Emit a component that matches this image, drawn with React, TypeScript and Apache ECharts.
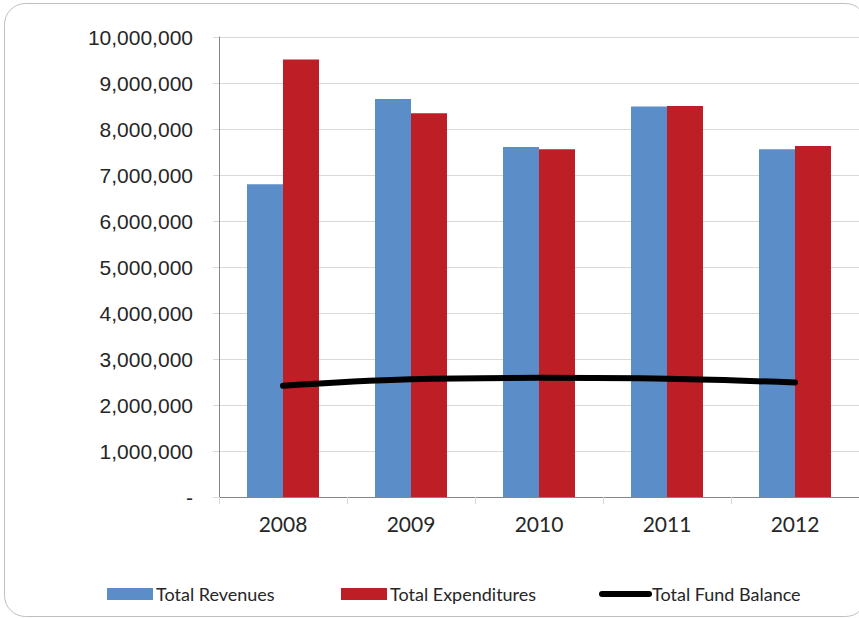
import React, { useEffect, useRef } from "react";
import * as echarts from "echarts";

const years = ["2008", "2009", "2010", "2011", "2012"];
const totalRevenues = [6800000, 8650000, 7610000, 8490000, 7560000];
const totalExpenditures = [9510000, 8340000, 7560000, 8500000, 7630000];
const totalFundBalance = [2420000, 2560000, 2590000, 2570000, 2490000];
const seriesNames = ["Total Revenues", "Total Expenditures", "Total Fund Balance"];
const colors = ["#5B8DC9", "#BE1F26", "#000000"];

export default function App() {
  const ref = useRef<HTMLDivElement>(null);
  useEffect(() => {
    if (!ref.current) return;
    const chart = echarts.init(ref.current, null, { renderer: "svg" });
    const legendFont = "Lato";
    chart.setOption({
      animation: false,
      backgroundColor: "#ffffff",
      grid: { left: 219, top: 37, right: 0, bottom: 121, containLabel: false },
      xAxis: {
        type: "category",
        data: years,
        boundaryGap: true,
        axisLine: { show: true, lineStyle: { color: "#868686", width: 1 } },
        axisTick: { show: true, alignWithLabel: false, interval: 0, length: 7, lineStyle: { color: "#D9D9D9" } },
        axisLabel: { margin: 16, color: "#262626", fontFamily: "Lato", fontSize: 21 },
        splitLine: { show: false },
      },
      yAxis: {
        type: "value",
        min: 0,
        max: 10000000,
        interval: 1000000,
        axisLine: { show: true, lineStyle: { color: "#868686", width: 1 } },
        axisTick: { show: true, length: 6, lineStyle: { color: "#D9D9D9" } },
        axisLabel: {
          margin: 26,
          color: "#262626",
          fontFamily: "Liberation Sans",
          fontSize: 21,
          formatter: (v: number) => (v === 0 ? "-" : v.toLocaleString("en-US")),
        },
        splitLine: { show: true, lineStyle: { color: "#D9D9D9", width: 1 } },
      },
      series: [
        {
          name: seriesNames[0],
          type: "bar",
          data: totalRevenues,
          barWidth: 36,
          barGap: "0%",
          itemStyle: { color: colors[0] },
        },
        {
          name: seriesNames[1],
          type: "bar",
          data: totalExpenditures,
          barWidth: 36,
          barGap: "0%",
          itemStyle: { color: colors[1] },
        },
        {
          name: seriesNames[2],
          type: "line",
          data: totalFundBalance,
          smooth: 0.4,
          showSymbol: false,
          symbol: "none",
          lineStyle: { color: colors[2], width: 6, cap: "round" },
          itemStyle: { color: colors[2] },
          z: 5,
        },
      ],
      graphic: [
        {
          type: "rect",
          shape: { x: 4.5, y: 3.5, width: 862, height: 613, r: 21 },
          style: { fill: "none", stroke: "#BFBFBF", lineWidth: 1 },
          silent: true,
          z: -1,
        },
        { type: "rect", shape: { x: 107, y: 588, width: 46, height: 12 }, style: { fill: colors[0] } },
        {
          type: "text",
          x: 156,
          y: 594,
          style: { text: seriesNames[0], fill: "#262626", font: `18px ${legendFont}`, textVerticalAlign: "middle" },
        },
        { type: "rect", shape: { x: 341, y: 588, width: 46, height: 12 }, style: { fill: colors[1] } },
        {
          type: "text",
          x: 390,
          y: 594,
          style: { text: seriesNames[1], fill: "#262626", font: `18px ${legendFont}`, textVerticalAlign: "middle" },
        },
        {
          type: "line",
          shape: { x1: 602, y1: 594, x2: 649, y2: 594 },
          style: { stroke: colors[2], lineWidth: 6, lineCap: "round" },
        },
        {
          type: "text",
          x: 652,
          y: 594,
          style: { text: seriesNames[2], fill: "#262626", font: `18px ${legendFont}`, textVerticalAlign: "middle" },
        },
      ],
    });
    return () => chart.dispose();
  }, []);
  return (
    <div
      ref={ref}
      style={{ position: "fixed", left: 0, top: 0, width: 859, height: 618, background: "#fff" }}
    />
  );
}
